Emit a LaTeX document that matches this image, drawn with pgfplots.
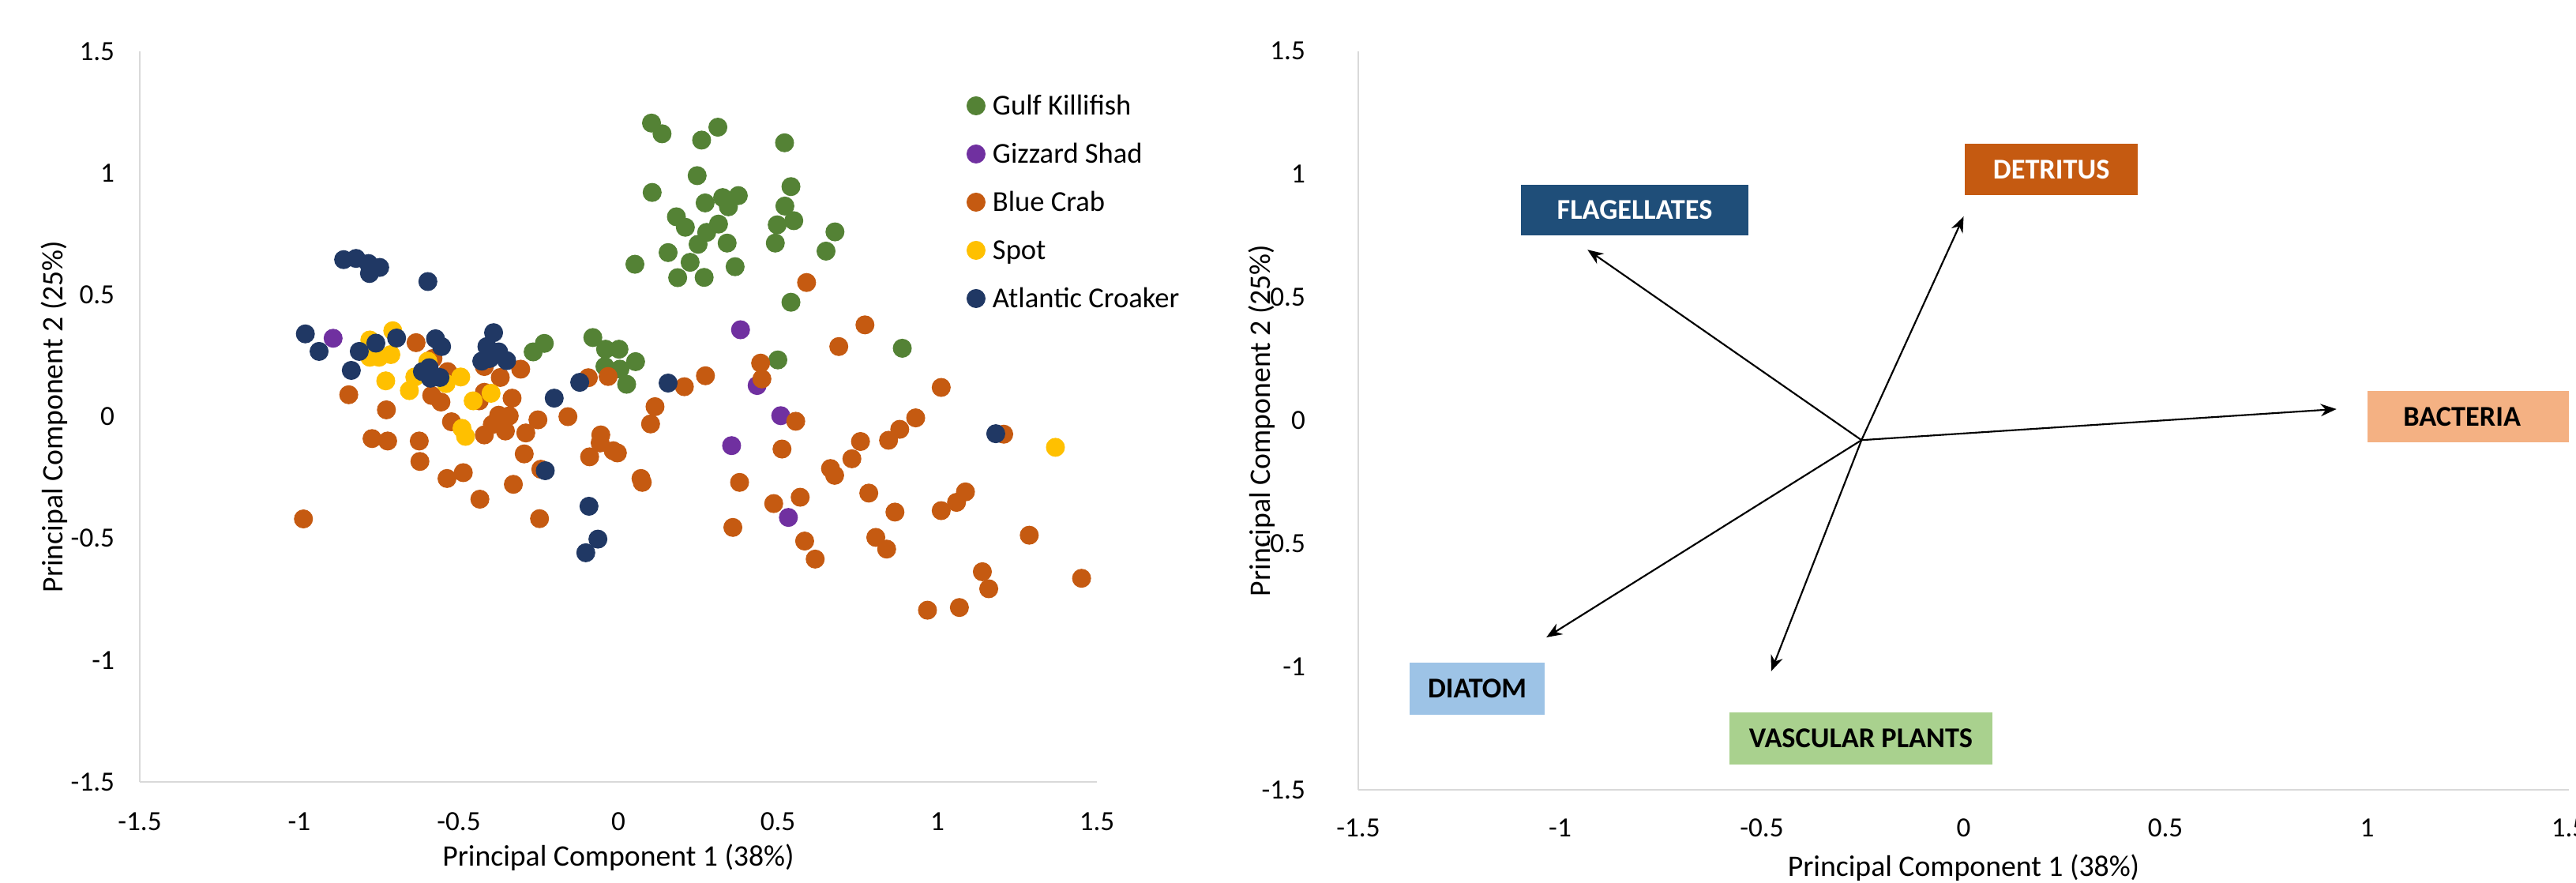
\documentclass[border=0pt]{standalone}
\usepackage{fontspec}
\setmainfont{Carlito}
\usepackage{pgfplots}
\pgfplotsset{compat=1.18}
\usetikzlibrary{arrows.meta}
\definecolor{gk}{HTML}{548235}
\definecolor{gs}{HTML}{7030A0}
\definecolor{bc}{HTML}{C55A11}
\definecolor{sp}{HTML}{FFC000}
\definecolor{ac}{HTML}{203864}
\definecolor{axgray}{HTML}{D9D9D9}
\definecolor{flag}{HTML}{1F4E79}
\definecolor{bact}{HTML}{F4B183}
\definecolor{diat}{HTML}{9DC3E6}
\definecolor{vasc}{HTML}{A9D18E}
\newcommand{\tickfont}{\fontsize{12.3}{14}\selectfont}
\newcommand{\labfont}{\fontsize{13.2}{15}\selectfont}
\pgfplotsset{
  pca/.style={
    scale only axis,
    xmin=-1.5, xmax=1.5, ymin=-1.5, ymax=1.5,
    axis lines=left,
    axis line style={-, draw=axgray, line width=0.9pt},
    xtick={-1.5,-1,-0.5,0,0.5,1,1.5},
    xticklabels={-1.5,-1,-0.5,0,0.5,1,1.5},
    ytick={-1.5,-1,-0.5,0,0.5,1,1.5},
    yticklabels={-1.5,-1,-0.5,0,0.5,1,1.5},
    major tick length=0pt,
    tick style={draw=none},
    ticklabel style={font=\tickfont, inner sep=0pt},
    yticklabel style={anchor=east, xshift=-11pt},
    xlabel={Principal Component 1 (38\%)},
    ylabel={Principal Component 2 (25\%)},
    label style={font=\labfont},
    clip=false,
  },
  pts/.style={only marks, mark=*, mark size=4pt, color=#1, mark options={draw=#1, fill=#1}},
  arr/.style={black, no markers, solid, line width=0.75pt, -{Stealth[length=7pt,width=5.5pt]}},
}
\begin{document}
\begin{tikzpicture}
\useasboundingbox (0,0) rectangle (1141.7pt,390.95pt);
% ---------------- left: scores ----------------
\begin{axis}[pca,
  at={(61.95pt,44.485pt)}, anchor=south west,
  width=424.2pt, height=323.645pt,
  xticklabel style={anchor=north, yshift=-13.3pt},
  xlabel style={at={(axis description cs:0.5,-0.104)}, anchor=center},
  ylabel style={at={(axis description cs:-0.0895,0.5)}, anchor=center},
  legend style={draw=none, fill=none, at={(0.8643,0.9586)}, anchor=north west,
    inner sep=0pt, outer sep=0pt, row sep=0pt,
    nodes={font=\fontsize{12.8}{15}\selectfont, inner xsep=0pt, inner ysep=0pt, text height=14.7pt, text depth=6.65pt},
    /tikz/every odd column/.style={column sep=3.35pt}},
  legend cell align=left,
  legend image code/.code={\draw[#1] plot coordinates {(0pt,0pt)};},
]
\addplot[pts=gk] coordinates {
(0.104,1.206) (0.137,1.162) (0.261,1.136) (0.312,1.189) (0.521,1.125)
(0.247,0.990) (0.106,0.921) (0.541,0.945) (0.272,0.878) (0.327,0.900)
(0.376,0.908) (0.345,0.862) (0.522,0.865) (0.550,0.805) (0.498,0.788)
(0.182,0.821) (0.210,0.778) (0.314,0.791) (0.277,0.757) (0.250,0.708)
(0.341,0.713) (0.492,0.713) (0.679,0.759) (0.651,0.680) (0.156,0.674)
(0.052,0.626) (0.225,0.634) (0.186,0.571) (0.269,0.572) (0.366,0.616)
(0.541,0.470) (0.500,0.233) (0.890,0.281)
(-0.267,0.266) (-0.232,0.301) (-0.080,0.325) (-0.040,0.277) (0.002,0.277)
(0.054,0.226) (-0.042,0.206) (0.005,0.195) (0.026,0.133)
};
\addlegendentry{Gulf Killifish}
\addplot[pts=gs] coordinates {
(-0.894,0.322) (0.383,0.357) (0.435,0.128) (0.509,0.004) (0.355,-0.119) (0.533,-0.414)
};
\addlegendentry{Gizzard Shad}
\addplot[pts=bc] coordinates {
(-0.634,0.304) (-0.581,0.239) (-0.535,0.185) (-0.845,0.090) (-0.727,0.028)
(-0.585,0.087) (-0.556,0.060) (-0.523,-0.021) (-0.436,0.065) (-0.420,0.100)
(-0.772,-0.090) (-0.723,-0.100) (-0.624,-0.100) (-0.622,-0.184) (-0.486,-0.230)
(-0.537,-0.254) (-0.434,-0.339) (-0.295,-0.153) (-0.243,-0.216) (-0.329,-0.278)
(-0.247,-0.419) (-0.090,-0.165) (-0.057,-0.108) (-0.016,-0.140) (-0.003,-0.149)
(0.071,-0.254) (0.075,-0.270) (-0.987,-0.420)
(-0.094,0.160) (-0.032,0.165) (0.207,0.123) (0.115,0.041) (0.101,-0.030)
(-0.306,0.195) (-0.370,0.161) (-0.333,0.076) (-0.375,0.006) (-0.342,0.003)
(-0.354,-0.059) (-0.420,-0.075) (-0.395,-0.032) (-0.252,-0.013) (-0.290,-0.067)
(-0.158,0.000) (-0.055,-0.075) (-0.420,0.206)
(0.590,0.551) (0.773,0.377) (0.691,0.288) (0.446,0.220) (0.273,0.168)
(0.450,0.155) (1.012,0.120) (0.556,-0.019) (0.513,-0.133) (0.932,-0.005)
(0.882,-0.052) (0.847,-0.097) (0.759,-0.102) (0.732,-0.173) (0.665,-0.213)
(0.678,-0.241) (1.208,-0.072) (0.380,-0.270) (0.785,-0.314) (0.570,-0.331)
(0.487,-0.357) (0.867,-0.392) (1.088,-0.309) (1.060,-0.352) (1.012,-0.386)
(0.359,-0.455) (0.584,-0.511) (0.617,-0.585) (0.807,-0.496) (0.841,-0.544)
(1.288,-0.487) (1.141,-0.637) (1.161,-0.707) (1.452,-0.664) (0.969,-0.795)
(1.069,-0.784)
};
\addlegendentry{Blue Crab}
\addplot[pts=sp] coordinates {
(-0.779,0.315) (-0.707,0.353) (-0.779,0.244) (-0.750,0.244) (-0.713,0.255)
(-0.729,0.147) (-0.655,0.107) (-0.638,0.163) (-0.597,0.228) (-0.540,0.136)
(-0.494,0.163) (-0.455,0.065) (-0.399,0.096) (-0.490,-0.048) (-0.479,-0.081)
(1.370,-0.126)
};
\addlegendentry{Spot}
\addplot[pts=ac] coordinates {
(-0.861,0.645) (-0.822,0.650) (-0.783,0.629) (-0.748,0.613) (-0.780,0.588)
(-0.597,0.555) (-0.981,0.340) (-0.938,0.268) (-0.812,0.268) (-0.837,0.190)
(-0.760,0.302) (-0.695,0.323) (-0.573,0.320) (-0.554,0.288) (-0.614,0.185)
(-0.593,0.201) (-0.559,0.161) (-0.589,0.158) (-0.391,0.345) (-0.412,0.288)
(-0.375,0.266) (-0.428,0.228) (-0.350,0.230) (-0.403,0.239) (-0.121,0.141)
(-0.201,0.076) (0.156,0.138) (-0.229,-0.222) (-0.092,-0.368) (-0.064,-0.503)
(-0.102,-0.559) (1.183,-0.070)
};
\addlegendentry{Atlantic Croaker}
\end{axis}
% ---------------- right: loadings ----------------
\begin{axis}[pca,
  at={(602pt,40.95pt)}, anchor=south west,
  width=536.55pt, height=327.39pt,
  xticklabel style={anchor=north, yshift=-12.8pt},
  yticklabel style={xshift=-12.3pt},
  xlabel style={at={(axis description cs:0.5,-0.106)}, anchor=center},
  ylabel style={at={(axis description cs:-0.0796,0.5)}, anchor=center},
]
\addplot[arr] coordinates {(-0.253,-0.080) (-0.932,0.693)};
\addplot[arr] coordinates {(-0.253,-0.080) (0.000,0.828)};
\addplot[arr] coordinates {(-0.253,-0.080) (0.924,0.046)};
\addplot[arr] coordinates {(-0.253,-0.080) (-1.034,-0.881)};
\addplot[arr] coordinates {(-0.253,-0.080) (-0.477,-1.019)};
\fill[flag] (axis cs:-1.096,0.751) rectangle (axis cs:-0.534,0.958);
\node[text=white, font=\bfseries\fontsize{12.7}{14}\selectfont] at (axis cs:-0.815,0.8545) {FLAGELLATES};
\fill[bc] (axis cs:0.003,0.916) rectangle (axis cs:0.432,1.124);
\node[text=white, font=\bfseries\fontsize{12.7}{14}\selectfont] at (axis cs:0.2175,1.02) {DETRITUS};
\fill[bact] (axis cs:1.000,-0.088) rectangle (axis cs:1.500,0.120);
\node[text=black, font=\bfseries\fontsize{12.7}{14}\selectfont] at (axis cs:1.235,0.016) {BACTERIA};
\fill[diat] (axis cs:-1.372,-1.194) rectangle (axis cs:-1.039,-0.984);
\node[text=black, font=\bfseries\fontsize{12.7}{14}\selectfont] at (axis cs:-1.2055,-1.089) {DIATOM};
\fill[vasc] (axis cs:-0.580,-1.396) rectangle (axis cs:0.071,-1.187);
\node[text=black, font=\bfseries\fontsize{12.7}{14}\selectfont] at (axis cs:-0.2545,-1.2915) {VASCULAR PLANTS};
\end{axis}
\end{tikzpicture}
\end{document}
